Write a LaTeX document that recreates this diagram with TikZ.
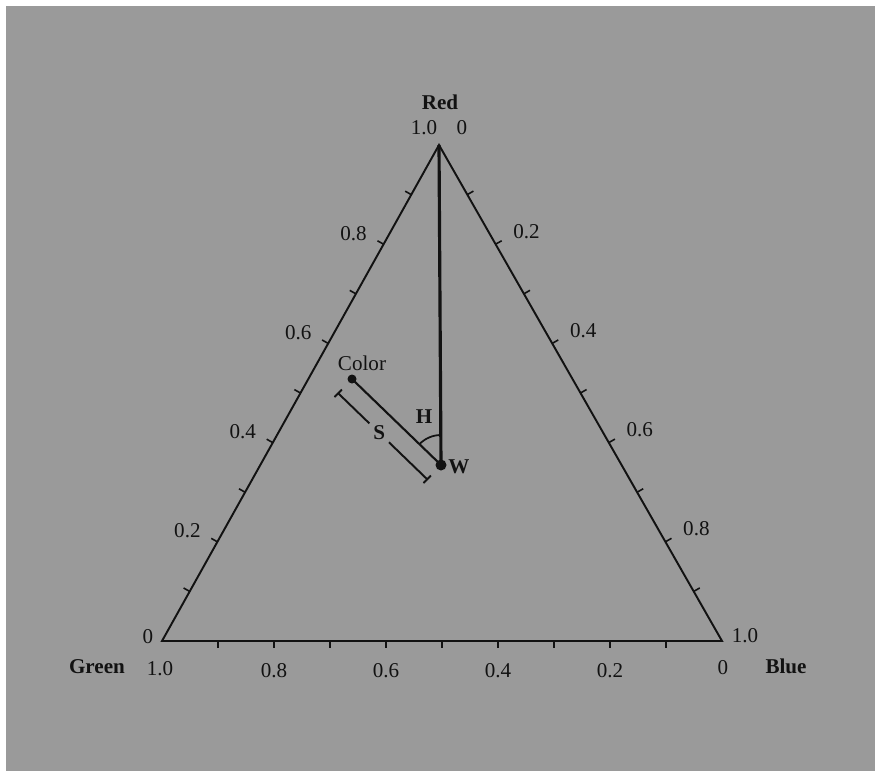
\documentclass[tikz,border=0pt]{standalone}
\usepackage{fontspec}
\setmainfont{Liberation Serif}
\usetikzlibrary{calc}
\definecolor{bggray}{RGB}{154,154,154}
\definecolor{ink}{RGB}{18,18,18}

\begin{document}
\begin{tikzpicture}[x=0.02cm,y=-0.02cm,
    every node/.style={font=\fontsize{12}{14}\selectfont,text=ink,inner sep=1pt},
    corner/.style={font=\fontsize{12}{14}\selectfont\bfseries},
    side/.style={draw=ink,line width=1.1pt},
    tickmark/.style={draw=ink,line width=0.9pt}]
    \useasboundingbox (0,0) rectangle (875,771);
    \fill[white] (0,0) rectangle (875,771);
    \fill[bggray] (6,6) rectangle (875,771);
    % vertices
    \coordinate (red) at (439,145);
    \coordinate (green) at (162,641);
    \coordinate (blue) at (722,641);
    \draw[side,line join=miter] (green) -- (red) -- (blue) -- cycle;
    % ticks every 0.1
    \foreach \t in {1,...,9}{
        \path ($(green)!\t/10!(red)$) coordinate (p);
        \draw[tickmark] (p) -- ($(p)!4pt!90:(red)$);
        \path ($(red)!\t/10!(blue)$) coordinate (p);
        \draw[tickmark] (p) -- ($(p)!4pt!90:(blue)$);
        \path ($(blue)!\t/10!(green)$) coordinate (p);
        \draw[tickmark] (p) -- ($(p)!4pt!90:(green)$);
    }
    % scale labels
    \foreach \t in {0.2,0.4,0.6,0.8}{
        \node (l\t) at ($(green)!\t!(red)+(-30,-11)$) {\t};
        \node (r\t) at ($(red)!\t!(blue)+(31,-13)$) {\t};
    }
    \foreach \t in {0.2,0.4,0.6,0.8}{
        \node (b\t) at ($(blue)!\t!(green)+(0,30)$) {\t};
    }
    \node (redone) at (424,128) {1.0};
    \node (redzero) at (462,128) {0};
    \node (greenzero) at (148,637) {0};
    \node (greenone) at (160,669) {1.0};
    \node (blueone) at (745,636) {1.0};
    \node (bluezero) at (723,668) {0};
    \node[corner] (redlbl) at (440,102) {Red};
    \node[corner] (greenlbl) at (97,667) {Green};
    \node[corner] (bluelbl) at (786,666) {Blue};
    % white point and colour
    \coordinate (w) at (441,465);
    \coordinate (color) at (352,379);
    \draw[ink,line width=1.8pt] (red) -- (w);
    \draw[ink,line width=1.2pt] (color) -- (w);
    \fill[ink] (w) circle (5.5);
    \fill[ink] (color) circle (4.5);
    \node (wlbl) at (459,467) {\bfseries W};
    \node (colorlbl) at (362,363) {Color};
    % hue angle
    \draw[ink,line width=1pt] ($(w)+(0,-30)$) arc[start angle=-90,end angle=-136,radius=30];
    \node (hlbl) at (424,417) {\bfseries H};
    % saturation
    \coordinate (sa) at ($(color)!11.3pt!-90:(w)$);
    \coordinate (sb) at ($(w)!11.3pt!90:(color)$);
    \draw[ink,line width=1.1pt] (sa) -- ($(sa)!0.35!(sb)$);
    \draw[ink,line width=1.1pt] ($(sa)!0.57!(sb)$) -- (sb);
    \draw[ink,line width=1.1pt] ($(sa)!3pt!90:(sb)$) -- ($(sa)!3pt!-90:(sb)$);
    \draw[ink,line width=1.1pt] ($(sb)!3pt!90:(sa)$) -- ($(sb)!3pt!-90:(sa)$);
    \node (slbl) at ($(sa)!0.46!(sb)$) {\bfseries S};
\end{tikzpicture}
\end{document}
